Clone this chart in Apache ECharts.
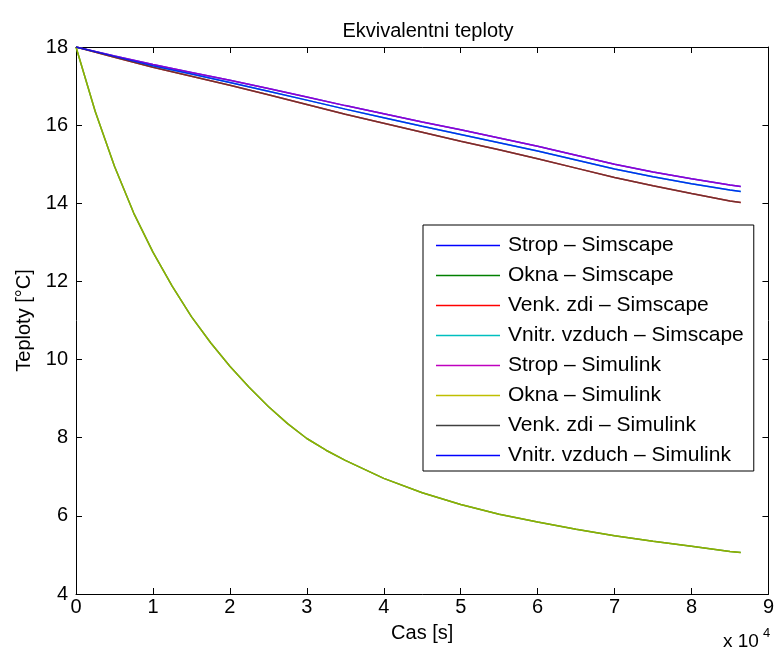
<!DOCTYPE html>
<html>
<head>
<meta charset="utf-8">
<script src="https://cdn.jsdelivr.net/npm/echarts@6/dist/echarts.min.js"></script>
<style>
html,body{margin:0;padding:0;background:#fff;}
#chart{width:777px;height:659px;}
</style>
</head>
<body>
<div id="chart"></div>
<script>
// time in seconds
var timeUpper = [0, 5000, 10000, 15000, 20000, 25000, 30000, 35000, 40000, 45000, 50000, 55000, 60000, 65000, 70000, 75000, 80000, 85000, 86400];
var stropT   = [18.00, 17.77, 17.55, 17.35, 17.15, 16.94, 16.72, 16.50, 16.29, 16.08, 15.88, 15.67, 15.46, 15.23, 15.00, 14.80, 14.63, 14.47, 14.43];
var vzduchT  = [18.00, 17.76, 17.52, 17.31, 17.09, 16.87, 16.64, 16.41, 16.19, 15.97, 15.76, 15.55, 15.34, 15.11, 14.88, 14.68, 14.50, 14.34, 14.30];
var zdiT     = [18.00, 17.74, 17.48, 17.25, 17.02, 16.78, 16.53, 16.28, 16.05, 15.82, 15.59, 15.37, 15.14, 14.90, 14.66, 14.45, 14.25, 14.06, 14.02];
var timeOkna = [0, 2500, 5000, 7500, 10000, 12500, 15000, 17500, 20000, 22500, 25000, 27500, 30000, 32500, 35000, 40000, 45000, 50000, 55000, 60000, 65000, 70000, 75000, 80000, 85000, 86400];
var oknaT    = [18.00, 16.35, 14.95, 13.75, 12.75, 11.88, 11.10, 10.43, 9.83, 9.29, 8.80, 8.36, 7.98, 7.68, 7.42, 6.96, 6.59, 6.29, 6.04, 5.84, 5.66, 5.49, 5.35, 5.22, 5.09, 5.06];

var seriesNames = ['Strop \u2013 Simscape', 'Okna \u2013 Simscape', 'Venk. zdi \u2013 Simscape', 'Vnitr. vzduch \u2013 Simscape',
                   'Strop \u2013 Simulink', 'Okna \u2013 Simulink', 'Venk. zdi \u2013 Simulink', 'Vnitr. vzduch \u2013 Simulink'];
var seriesColors = ['#0000ff', '#008000', '#ff0000', '#00bfbf', '#bf00bf', '#bfbf00', '#404040', '#0000ff'];
var xTickLabels = ['0','1','2','3','4','5','6','7','8','9'];

function pairs(xs, ys) { return xs.map(function (x, i) { return [x, ys[i]]; }); }
var seriesData = [
  pairs(timeUpper, stropT), pairs(timeOkna, oknaT), pairs(timeUpper, zdiT), pairs(timeUpper, vzduchT),
  pairs(timeUpper, stropT), pairs(timeOkna, oknaT), pairs(timeUpper, zdiT), pairs(timeUpper, vzduchT)
];

var FONT = 'Liberation Sans, Arial, sans-serif';
var FS = 20;
var series = seriesNames.map(function (n, i) {
  return {
    name: n, type: 'line', data: seriesData[i], symbol: 'none', animation: false,
    xAxisIndex: 0, yAxisIndex: 0,
    lineStyle: { color: seriesColors[i], width: 1.5, opacity: i >= 4 ? 0.75 : 1 },
    itemStyle: { color: seriesColors[i] },
    z: 2 + i
  };
});

var chart = echarts.init(document.getElementById('chart'), null, { renderer: 'canvas' });
var tickStyle = { show: true, inside: true, length: 6, lineStyle: { color: '#000', width: 1 } };
var axisLine = { show: true, onZero: false, lineStyle: { color: '#000', width: 1 } };
chart.setOption({
  backgroundColor: '#fff',
  animation: false,
  title: {
    text: 'Ekvivalentni teploty', left: 423, top: 16, textAlign: 'center',
    textStyle: { fontFamily: FONT, fontSize: FS, fontWeight: 'normal', color: '#000' }
  },
  grid: { left: 76, right: 7, top: 47, bottom: 65, containLabel: false },
  legend: {
    orient: 'vertical', left: 423, top: 225,
    backgroundColor: '#fff', borderColor: '#000', borderWidth: 1,
    padding: [10, 10, 5, 13], itemWidth: 64, itemHeight: 14, itemGap: 9,
    icon: 'path://M0,0 L64,0 L64,1.5 L0,1.5 Z',
    textStyle: { fontFamily: FONT, fontSize: 21, color: '#000', padding: [0, 0, 0, 3] },
    data: seriesNames
  },
  xAxis: [{
    type: 'value', min: 0, max: 90000, interval: 10000, position: 'bottom',
    name: 'Cas [s]', nameLocation: 'middle', nameGap: 29,
    nameTextStyle: { fontFamily: FONT, fontSize: FS, color: '#000' },
    axisLine: axisLine, axisTick: tickStyle, splitLine: { show: false },
    axisLabel: { fontFamily: FONT, fontSize: FS, color: '#000', margin: 3,
      formatter: function (v) { return xTickLabels[Math.round(v / 10000)]; } }
  }, {
    type: 'value', min: 0, max: 90000, interval: 10000, position: 'top',
    axisLine: axisLine, axisTick: tickStyle, splitLine: { show: false }, axisLabel: { show: false }
  }],
  yAxis: [{
    type: 'value', min: 4, max: 18, interval: 2, position: 'left',
    name: 'Teploty [\u00b0C]', nameLocation: 'middle', nameGap: 40,
    nameTextStyle: { fontFamily: FONT, fontSize: FS, color: '#000' },
    axisLine: axisLine, axisTick: tickStyle, splitLine: { show: false },
    axisLabel: { fontFamily: FONT, fontSize: FS, color: '#000', margin: 8 }
  }, {
    type: 'value', min: 4, max: 18, interval: 2, position: 'right',
    axisLine: axisLine, axisTick: tickStyle, splitLine: { show: false }, axisLabel: { show: false }
  }],
  graphic: [
    { type: 'text', left: 723, top: 632, style: { text: 'x 10', fontFamily: FONT, fontSize: 19, fill: '#000' } },
    { type: 'text', left: 763, top: 627, style: { text: '4', fontFamily: FONT, fontSize: 13, fill: '#000' } }
  ],
  series: series
});
</script>
</body>
</html>
